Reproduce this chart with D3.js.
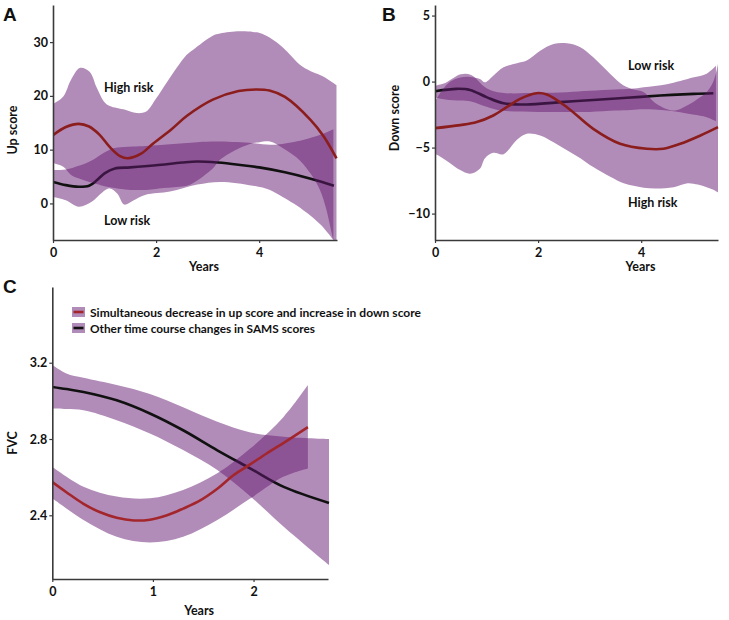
<!DOCTYPE html>
<html>
<head>
<meta charset="utf-8">
<script src="https://cdn.jsdelivr.net/npm/d3@7"></script>
<style>
  body { margin: 0; background: #fff; }
  svg { display: block; }
  text { font-family: Lato, "Open Sans", sans-serif; font-weight: bold; fill: #111; }
  .panel-letter { font-family: "Liberation Sans", Arial, sans-serif; font-weight: bold; font-size: 19px; }
</style>
</head>
<body>
<svg id="chart" width="729" height="620"></svg>
<script>
// ---------------- DATA ----------------
// Panel A: Up score
const aTicksX = [0, 2, 4];
const aTicksY = [0, 10, 20, 30];
const aHighX = [0,0.25,0.5,0.7,0.9,1.1,1.3,1.45,1.7,1.95,2.3,2.6,3.1,3.6,3.95,4.2,4.5,5.0,5.25,5.5];
const aHighMean = [12.7,14.2,14.8,14.3,12.8,10.5,8.8,8.4,9.2,11.2,13.8,16.3,19.3,20.9,21.2,21.0,19.8,15.5,12.5,8.4];
const aLowX = [0,0.25,0.5,0.7,0.85,1.0,1.2,1.5,2.0,2.5,2.8,3.2,3.6,4.0,4.5,5.0,5.45];
const aLowMean = [4.0,3.4,3.1,3.3,4.3,5.6,6.5,6.7,7.1,7.6,7.8,7.6,7.2,6.7,5.8,4.6,3.3];
const aHighBandX = [0,0.2,0.35,0.52,0.71,0.85,1.0,1.1,1.4,1.62,1.81,2.0,2.2,2.59,2.72,3.1,3.24,3.62,3.88,4.01,4.21,4.47,4.79,5.0,5.18,5.3,5.44,5.5];
const aHighUpper = [18.5,19.9,23,25.2,24.5,21.5,18.8,18.1,17.4,16.8,17.1,19.5,22.4,27.6,28.6,31.2,31.6,32,31.9,31.7,30.8,28.9,25.8,24.6,23.9,23.3,22.4,22];
const aHighLower = [7.5,6.8,5.3,4.6,4.0,3.6,3.2,3.0,2.6,2.5,2.5,2.7,2.9,3.3,3.8,6.5,8.1,10.3,11.2,11.4,11.5,10.2,8.0,5.5,2.5,-1.0,-6.8,-8.5];
const aLowBandX = [0,0.25,0.5,0.75,0.95,1.1,1.25,1.38,1.55,1.8,2.27,2.8,3.24,3.88,4.21,4.4,4.85,5.2,5.44];
const aLowUpper = [6.2,6.3,7.0,8.0,9.2,10.0,10.4,10.5,10.6,10.7,11.0,11.4,11.5,11.2,10.9,11.0,11.8,12.8,13.8];
const aLowLower = [1.2,0.6,-0.6,0.3,2.0,2.8,1.8,-0.2,0.5,1.6,2.2,3.5,4.0,3.3,2.5,1.5,-1.2,-4.0,-6.8];

// Panel B: Down score
const bTicksX = [0, 2, 4];
const bTicksY = [-10, -5, 0, 5];
const bHighX = [0,0.49,0.81,1.13,1.39,1.65,1.97,2.17,2.56,3.07,3.59,4.11,4.43,4.76,5.15,5.49];
const bHighMean = [-3.53,-3.3,-3.07,-2.57,-1.94,-1.31,-0.88,-0.98,-1.94,-3.58,-4.71,-5.09,-5.09,-4.71,-4.08,-3.45];
const bLowX = [0,0.42,0.68,1.0,1.33,1.78,2.43,3.07,3.72,4.37,5.02,5.4];
const bLowMean = [-0.73,-0.55,-0.63,-1.18,-1.64,-1.74,-1.56,-1.39,-1.23,-1.06,-0.93,-0.88];
const bHighBandX = [0,0.15,0.3,0.49,0.68,0.87,0.97,1.13,1.33,1.59,1.78,2.04,2.3,2.56,2.82,3.07,3.4,3.66,3.85,4.05,4.3,4.63,4.9,5.1,5.27,5.4,5.49];
const bHighUpper = [-1.5,-0.6,0.0,0.3,0.35,0.2,-0.05,0.45,1.08,1.39,1.59,2.34,2.85,2.9,2.6,1.84,0.58,-0.3,-0.6,-0.8,-1.7,-2.2,-1.8,-1.3,-0.8,0.0,1.34];
const bHighLower = [-5.47,-5.8,-6.2,-6.7,-6.98,-6.6,-5.8,-5.4,-5.5,-4.4,-3.95,-4.08,-4.6,-5.2,-5.8,-6.47,-7.2,-7.7,-7.9,-8.05,-8.1,-8.0,-7.7,-7.8,-8.0,-8.2,-8.4];
const bLowBandX = [0,0.2,0.5,0.7,1.0,1.3,2.0,2.56,3.0,3.5,3.8,4.05,4.5,5.0,5.27,5.45];
const bLowUpper = [-0.3,-0.1,0.55,0.5,-0.5,-0.85,-0.85,-0.8,-0.7,-0.6,-0.55,-0.43,-0.2,0.3,0.6,1.2];
const bLowLower = [-1.2,-1.35,-1.44,-1.5,-1.9,-2.2,-2.3,-2.3,-2.3,-2.2,-2.15,-2.1,-2.2,-2.5,-2.7,-3.0];

// Panel C: FVC
const cTicksX = [0, 1, 2];
const cTicksY = [2.4, 2.8, 3.2];
const cLegend = ["Simultaneous decrease in up score and increase in down score", "Other time course changes in SAMS scores"];
const cOtherX = [0,0.14,0.31,0.64,0.97,1.3,1.64,1.97,2.3,2.75];
const cOtherMean = [3.073,3.062,3.047,3.003,2.934,2.846,2.741,2.645,2.549,2.465];
const cOtherUpper = [3.188,3.144,3.121,3.083,3.036,2.966,2.89,2.834,2.812,2.8];
const cOtherLower = [2.96,2.957,2.951,2.899,2.829,2.742,2.637,2.498,2.34,2.139];
const cSimX = [0,0.14,0.31,0.47,0.64,0.81,0.97,1.14,1.3,1.47,1.64,1.8,1.97,2.13,2.3,2.54];
const cSimMean = [2.574,2.521,2.46,2.417,2.387,2.373,2.377,2.4,2.435,2.478,2.539,2.61,2.668,2.724,2.78,2.862];
const cSimBandX = [0,0.31,0.64,0.97,1.3,1.64,1.97,2.3,2.54];
const cSimUpper = [2.655,2.55,2.498,2.489,2.533,2.62,2.751,2.917,3.083];
const cSimLower = [2.489,2.376,2.288,2.258,2.288,2.376,2.489,2.603,2.646];

// ---------------- DRAWING ----------------
const svg = d3.select("#chart");
const BAND = "rgb(101,25,113)";
const BAND_OP = 0.5;
const RED_AB = "#8b1d1d";
const RED_C = "#a3262c";
const AXIS = "#3a3a3a";
const curve = d3.curveCatmullRom.alpha(0.5);

function zip(xs, ...cols) { return xs.map((x, i) => [x, ...cols.map(c => c[i])]); }

function panel(cfg) {
  const g = svg.append("g");
  const x = d3.scaleLinear().domain(cfg.xDomain).range([cfg.left, cfg.right]);
  const y = d3.scaleLinear().domain(cfg.yDomain).range([cfg.bottom, cfg.top]);
  const clipId = "clip" + cfg.id;
  svg.append("clipPath").attr("id", clipId).append("rect")
    .attr("x", cfg.left).attr("y", cfg.top)
    .attr("width", cfg.right - cfg.left + 2).attr("height", cfg.bottom - cfg.top);
  const plot = g.append("g").attr("clip-path", `url(#${clipId})`);

  const area = d3.area().x(d => x(d[0])).y0(d => y(d[2])).y1(d => y(d[1])).curve(curve);
  const line = d3.line().x(d => x(d[0])).y(d => y(d[1])).curve(curve);

  cfg.layers.forEach(L => {
    plot.append("path").datum(zip(L.bandX, L.upper, L.lower))
      .attr("d", area).attr("fill", BAND).attr("fill-opacity", BAND_OP);
    plot.append("path").datum(zip(L.lineX, L.mean))
      .attr("d", line).attr("fill", "none").attr("stroke", L.color).attr("stroke-width", 2.6);
  });

  // axes
  const ax = g.append("g").attr("transform", `translate(0,${cfg.bottom})`)
    .call(d3.axisBottom(x).tickValues(cfg.ticksX).tickSize(3).tickSizeOuter(0).tickFormat(d3.format("")));
  const ay = g.append("g").attr("transform", `translate(${cfg.left},0)`)
    .call(d3.axisLeft(y).tickValues(cfg.ticksY).tickSize(3).tickSizeOuter(0).tickFormat(cfg.fmtY));
  [ax, ay].forEach(a => {
    a.select(".domain").attr("stroke", AXIS).attr("stroke-width", 1.6);
    a.selectAll(".tick line").attr("stroke", AXIS).attr("stroke-width", 1.2);
    a.selectAll(".tick text").style("font-family", "Lato, sans-serif").style("font-weight", "bold")
      .style("font-size", "12.5px").attr("fill", "#111");
  });
  ax.selectAll(".tick text").attr("dy", "0.71em").attr("y", 8);
  ay.selectAll(".tick text").attr("x", -5);

  g.append("text").attr("x", (cfg.left + cfg.right) / 2 - cfg.xTitleShift).attr("y", cfg.xTitleY)
    .attr("text-anchor", "middle").style("font-size", "12.5px").text("Years");
  g.append("text").attr("transform", `translate(${cfg.yTitleX},${cfg.yTitleY}) rotate(-90)`)
    .attr("text-anchor", "middle").style("font-size", "12.5px").text(cfg.yTitle);
  g.append("text").attr("class", "panel-letter").attr("x", cfg.letterX).attr("y", cfg.letterY).text(cfg.letter);
  return { g, x, y };
}

// Panel A
const A = panel({
  id: "A", letter: "A", letterX: 3, letterY: 21,
  left: 53, right: 337, top: 5, bottom: 240,
  xDomain: [0, 5.51], yDomain: [-6.8, 36.9],
  ticksX: aTicksX, ticksY: aTicksY, fmtY: d3.format(""),
  xTitleShift: -9, xTitleY: 271, yTitle: "Up score", yTitleX: 17, yTitleY: 130,
  layers: [
    { bandX: aLowBandX, upper: aLowUpper, lower: aLowLower, lineX: aLowX, mean: aLowMean, color: "#111" },
    { bandX: aHighBandX, upper: aHighUpper, lower: aHighLower, lineX: aHighX, mean: aHighMean, color: RED_AB }
  ]
});
A.g.append("text").attr("x", 104).attr("y", 92).style("font-size", "12.5px").text("High risk");
A.g.append("text").attr("x", 104).attr("y", 225).style("font-size", "12.5px").text("Low risk");

// Panel B
const B = panel({
  id: "B", letter: "B", letterX: 382, letterY: 21,
  left: 435, right: 718, top: 5, bottom: 240,
  xDomain: [0, 5.49], yDomain: [-12.0, 5.8],
  ticksX: bTicksX, ticksY: bTicksY, fmtY: d3.format(""),
  xTitleShift: -64, xTitleY: 271, yTitle: "Down score", yTitleX: 399, yTitleY: 118,
  layers: [
    { bandX: bLowBandX, upper: bLowUpper, lower: bLowLower, lineX: bLowX, mean: bLowMean, color: "#111" },
    { bandX: bHighBandX, upper: bHighUpper, lower: bHighLower, lineX: bHighX, mean: bHighMean, color: RED_AB }
  ]
});
B.g.append("text").attr("x", 628).attr("y", 70).style("font-size", "12.5px").text("Low risk");
B.g.append("text").attr("x", 628).attr("y", 207).style("font-size", "12.5px").text("High risk");

// Panel C
const C = panel({
  id: "C", letter: "C", letterX: 3, letterY: 293,
  left: 52.3, right: 328, top: 287, bottom: 579,
  xDomain: [0, 2.74], yDomain: [2.066, 3.597],
  ticksX: cTicksX, ticksY: cTicksY, fmtY: d3.format(".1f"),
  xTitleShift: -9, xTitleY: 615, yTitle: "FVC", yTitleX: 17, yTitleY: 443,
  layers: [
    { bandX: cOtherX, upper: cOtherUpper, lower: cOtherLower, lineX: cOtherX, mean: cOtherMean, color: "#111" },
    { bandX: cSimBandX, upper: cSimUpper, lower: cSimLower, lineX: cSimX, mean: cSimMean, color: RED_C }
  ]
});

// Legend for C
const legColors = [RED_C, "#111"];
const legWidths = [331, 225];
cLegend.forEach((t, i) => {
  const yy = 307 + i * 16;
  C.g.append("rect").attr("x", 72).attr("y", yy).attr("width", 13).attr("height", 10)
    .attr("fill", BAND).attr("fill-opacity", BAND_OP);
  C.g.append("line").attr("x1", 73.5).attr("x2", 83.5).attr("y1", yy + 5).attr("y2", yy + 5)
    .attr("stroke", legColors[i]).attr("stroke-width", 2.6);
  C.g.append("text").attr("x", 90).attr("y", yy + 9.5).style("font-size", "11.5px")
    .attr("textLength", legWidths[i]).attr("lengthAdjust", "spacingAndGlyphs").text(t);
});
</script>
</body>
</html>
